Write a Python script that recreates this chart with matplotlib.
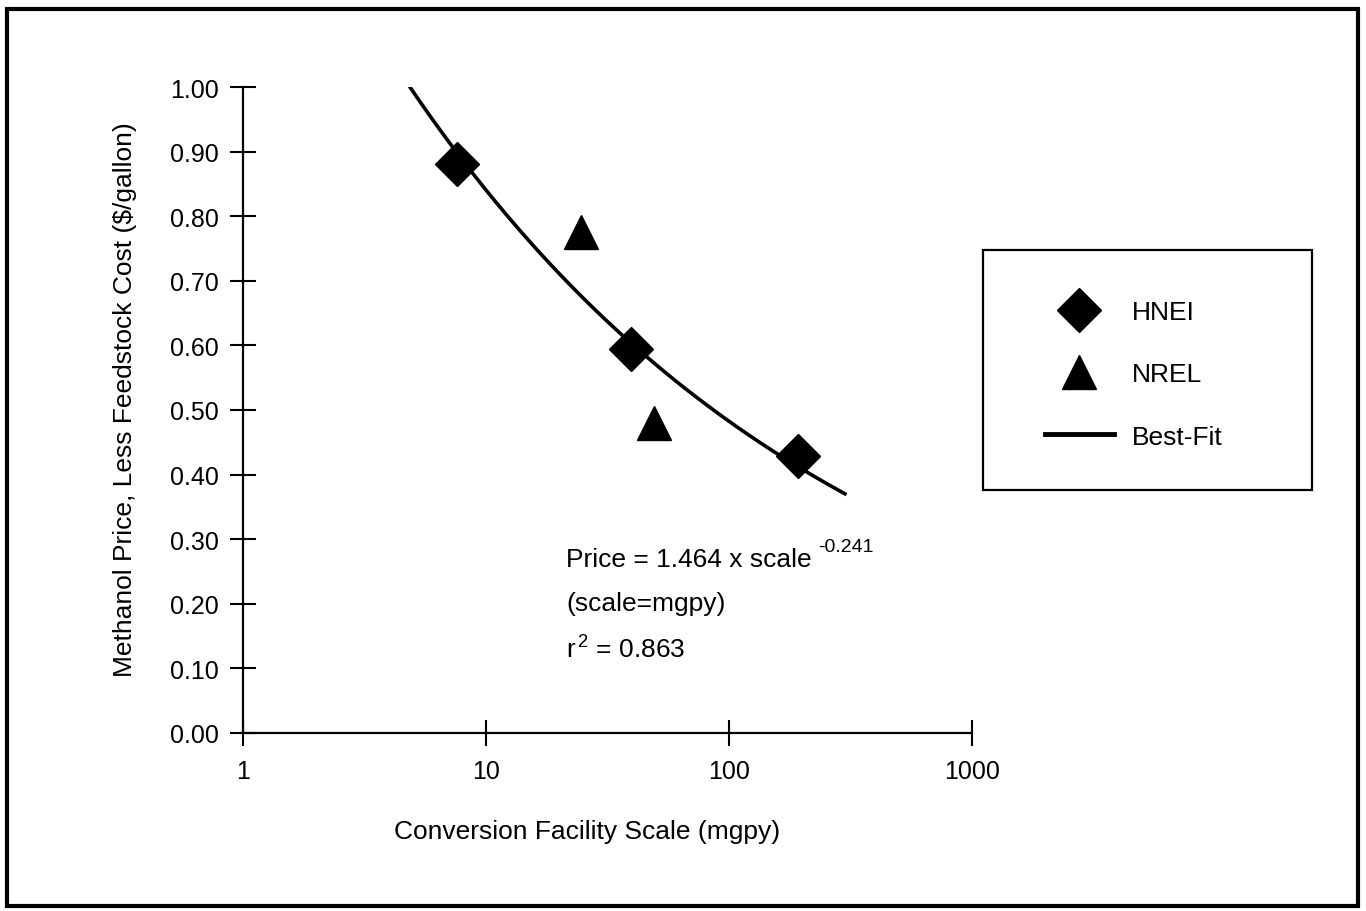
import numpy as np
import matplotlib
matplotlib.use("Agg")
import matplotlib.pyplot as plt
from matplotlib.lines import Line2D
from matplotlib.patches import Rectangle

plt.rcParams['font.family'] = ['Liberation Sans', 'DejaVu Sans']
plt.rcParams['mathtext.fontset'] = 'custom'
plt.rcParams['mathtext.rm'] = 'Liberation Sans'
plt.rcParams['mathtext.it'] = 'Liberation Sans'

# data
hnei_scale = [7.6, 39.5, 192]
hnei_price = [0.881, 0.594, 0.429]
nrel_scale = [24.6, 49.1]
nrel_price = [0.776, 0.48]

# best-fit line as printed on the chart
fit_a = 1.464
fit_b = -0.241
fit_range = (4.8, 300)

x_ticks = [1, 10, 100, 1000]
x_labels = ['1', '10', '100', '1000']
y_ticks = [0.0, 0.1, 0.2, 0.3, 0.4, 0.5, 0.6, 0.7, 0.8, 0.9, 1.0]

fig = plt.figure(figsize=(13.66, 9.12), dpi=100)
ax = fig.add_axes([243 / 1366, 1 - 734 / 912, 729 / 1366, 646 / 912])

fit_x = np.geomspace(fit_range[0], fit_range[1], 200)
fit_y = fit_a * fit_x ** fit_b
ax.plot(fit_x, fit_y, color='black', lw=2.6, zorder=2)
ax.plot(hnei_scale, hnei_price, 'D', color='black', ms=22, zorder=3)
ax.plot(nrel_scale, nrel_price, '^', color='black', ms=25, zorder=3)

ax.set_xscale('log')
ax.set_xlim(1, 1000)
ax.set_ylim(0, 1.0)
ax.set_xticks(x_ticks)
ax.set_xticklabels(x_labels)
ax.xaxis.set_minor_locator(matplotlib.ticker.NullLocator())
ax.set_yticks(y_ticks)
ax.set_yticklabels([f'{v:.2f}' for v in y_ticks])
ax.tick_params(direction='inout', length=19, width=1.5, labelsize=18)
ax.tick_params(axis='x', pad=9)
ax.tick_params(axis='y', pad=8)

for side in ['top', 'right']:
    ax.spines[side].set_visible(False)
for side in ['left', 'bottom']:
    ax.spines[side].set_linewidth(1.6)

ax.set_xlabel('Conversion Facility Scale (mgpy)', fontsize=19, va='center')
ax.xaxis.set_label_coords(0.472, -0.152)
ax.set_ylabel('Methanol Price, Less Feedstock Cost ($/gallon)', fontsize=19, va='center')
ax.yaxis.set_label_coords(-0.162, 0.517)

eq = ax.text(0.443, 0.269, 'Price = 1.464 x scale', transform=ax.transAxes,
             fontsize=19, va='center')
ax.annotate('-0.241', xy=(1, 1), xycoords=eq, xytext=(5, 7),
            textcoords='offset points', fontsize=14, va='top', ha='left')
ax.text(0.443, 0.201, '(scale=mgpy)', transform=ax.transAxes, fontsize=19, va='center')
ax.text(0.443, 0.130, r'r$^{\,2}$ = 0.863', transform=ax.transAxes, fontsize=19, va='center')

# legend box
fig.add_artist(Rectangle((983 / 1366, 1 - 491 / 912), 329 / 1366, 240 / 912,
                         transform=fig.transFigure, fill=False, lw=1.6, ec='black'))
handles = [Line2D([], [], marker='D', ls='none', color='black', ms=22),
           Line2D([], [], marker='^', ls='none', color='black', ms=25),
           Line2D([], [], color='black', lw=3.5)]
fig.legend(handles, ['HNEI', 'NREL', 'Best-Fit'], loc='upper left',
           bbox_to_anchor=(1045 / 1366, 1 - 301 / 912), frameon=False,
           fontsize=19, handlelength=2.6, handletextpad=0.7, labelspacing=1.45,
           borderpad=0, borderaxespad=0, numpoints=1)

# outer frame
fig.add_artist(Rectangle((7 / 1366, 1 - 907 / 912), 1351 / 1366, 897 / 912,
                         transform=fig.transFigure, fill=False, lw=3, ec='black'))

fig.savefig('out.png', dpi=100)
